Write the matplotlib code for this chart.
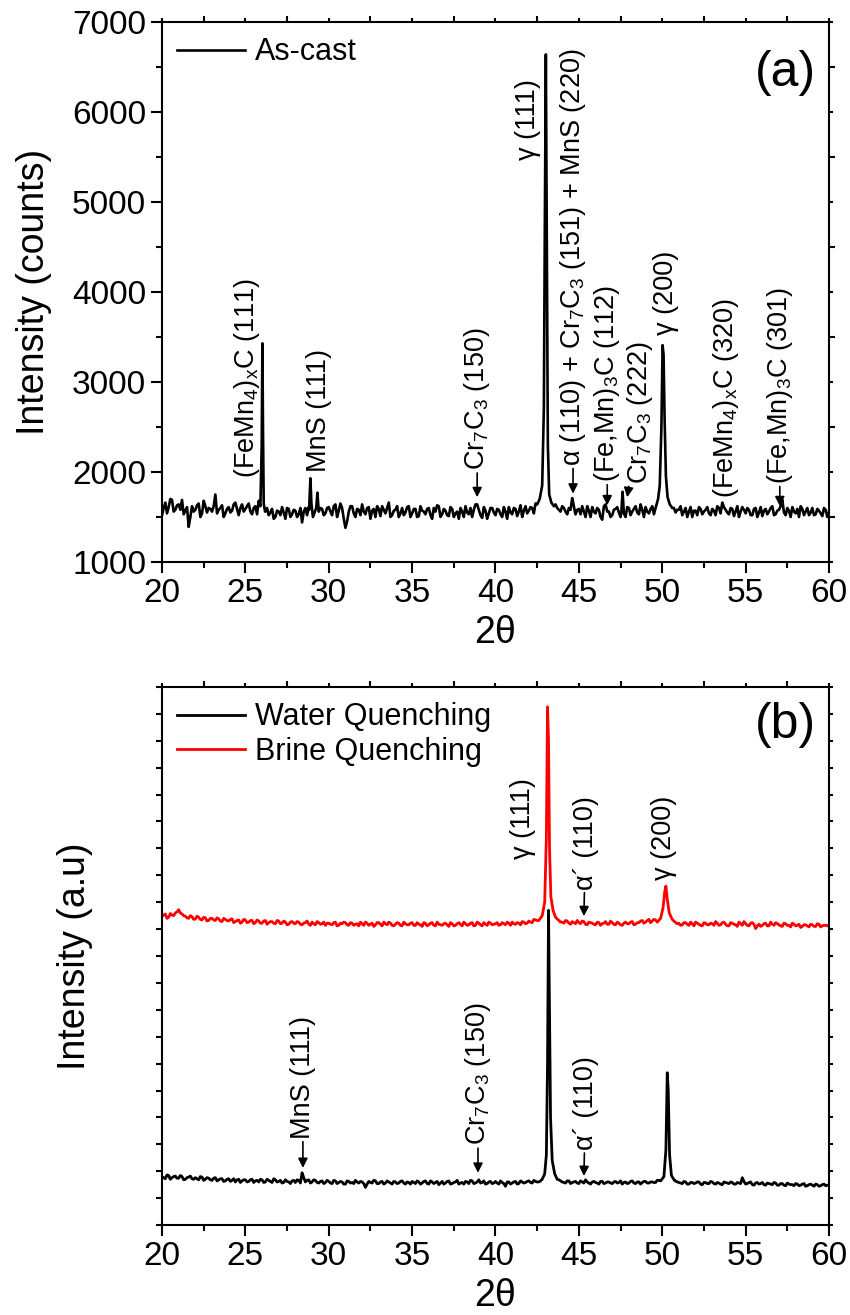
import numpy as np
import matplotlib
matplotlib.use("Agg")
import matplotlib.pyplot as plt
from matplotlib.ticker import MultipleLocator, NullFormatter

plt.rcParams['font.family'] = ['Liberation Sans', 'DejaVu Sans']
plt.rcParams['mathtext.fontset'] = 'custom'
plt.rcParams['mathtext.rm'] = 'Liberation Sans'
plt.rcParams['mathtext.it'] = 'Liberation Sans:italic'

# ---- data ----
# baseline read at every 0.2 deg (20.0 .. 60.0) plus the in-between points (20.1 .. 59.9)
grid_even = np.round(np.arange(20.0, 60.01, 0.2), 1)
grid_odd = np.round(np.arange(20.1, 59.91, 0.2), 1)

# (a) as-cast, counts
ascast_even = [
    1520, 1660, 1610, 1690, 1580,  1640, 1690, 1570, 1390, 1620,
    1580, 1650, 1540, 1620, 1600,  1560, 1750, 1580, 1630, 1540,
    1610, 1570, 1660, 1520, 1640,  1590, 1650, 1530, 1620, 1680,
    1600, 1560, 1520, 1590, 1500,  1560, 1610, 1480, 1590, 1530,
    1570, 1530, 1440, 1600, 1610,  1620, 1560, 1650, 1590, 1540,
    1610, 1520, 1640, 1570, 1600,  1380, 1560, 1620, 1500, 1580,
    1640, 1530, 1610, 1570, 1500,  1590, 1620, 1540, 1660, 1520,
    1580, 1500, 1600, 1550, 1620,  1540, 1590, 1510, 1570, 1530,
    1600, 1480, 1560, 1620, 1530,  1570, 1510, 1590, 1540, 1480,
    1560, 1620, 1530, 1500, 1640,  1580, 1490, 1570, 1540, 1600,
    1520, 1580, 1500, 1560, 1610,  1530, 1590, 1560, 1500, 1620,
    1570, 1600, 1650, 1680, 1760,  1700, 1680, 1660, 1640, 1580,
    1620, 1560, 1600, 1700, 1530,  1590, 1620, 1500, 1570, 1610,
    1540, 1580, 1470, 1640, 1560,  1520, 1590, 1550, 1600, 1500,
    1600, 1560, 1620, 1530, 1580,  1610, 1540, 1620, 1600, 1700,
    1800, 1900, 1700, 1620, 1550,  1580, 1520, 1600, 1560, 1500,
    1570, 1610, 1530, 1580, 1540,  1590, 1520, 1600, 1660, 1580,
    1530, 1590, 1560, 1500, 1610,  1540, 1580, 1520, 1600, 1550,
    1510, 1590, 1560, 1620, 1530,  1580, 1690, 1520, 1570, 1610,
    1540, 1500, 1590, 1560, 1520,  1600, 1530, 1570, 1510, 1580,
    1550]
ascast_odd = [
    1600, 1540, 1700, 1560, 1630,  1580, 1530, 1610, 1500, 1560,
    1630, 1500, 1680, 1550, 1590,  1620, 1540, 1600, 1500, 1590,
    1550, 1640, 1590, 1600, 1560,  1620, 1560, 1600, 1530, 1610,
    1700, 1600, 1550, 1480, 1570,  1520, 1550, 1600, 1500, 1580,
    1500, 1600, 1560, 1520, 1720,  1540, 1700, 1600, 1520, 1600,
    1560, 1620, 1500, 1650, 1480,  1450, 1620, 1540, 1590, 1520,
    1560, 1600, 1480, 1590, 1620,  1510, 1580, 1600, 1500, 1570,
    1620, 1540, 1520, 1610, 1500,  1590, 1500, 1620, 1560, 1590,
    1520, 1600, 1630, 1500, 1590,  1520, 1610, 1500, 1560, 1600,
    1500, 1550, 1600, 1580, 1640,  1520, 1610, 1480, 1600, 1550,
    1590, 1530, 1610, 1480, 1550,  1600, 1510, 1630, 1570, 1540,
    1610, 1540, 1600, 1650, 1700,  2000, 1800, 1650, 1600, 1560,
    1600, 1530, 1620, 1650, 1580,  1530, 1560, 1620, 1500, 1560,
    1600, 1500, 1620, 1560, 1500,  1580, 1610, 1500, 1560, 1610,
    1520, 1590, 1550, 1640, 1500,  1560, 1590, 1530, 1580, 1650,
    3000, 2000, 1700, 1600, 1580,  1620, 1560, 1500, 1610, 1570,
    1520, 1590, 1560, 1610, 1520,  1570, 1620, 1540, 1610, 1550,
    1600, 1510, 1620, 1560, 1580,  1600, 1520, 1590, 1500, 1610,
    1570, 1530, 1600, 1520, 1570,  1620, 1550, 1600, 1500, 1560,
    1590, 1620, 1520, 1600, 1550,  1520, 1590, 1540, 1600, 1500]

ascast_peaks_x = [
    [25.9, 25.98, 26.02, 26.06, 26.1, 26.18],
    [28.82, 28.9, 28.96, 29.05, 29.25, 29.32, 29.4],
    [42.5, 42.65, 42.8, 42.9, 42.96, 43.02, 43.08, 43.14, 43.22, 43.35, 43.5],
    [44.5, 44.6, 44.68, 44.76],
    [47.55, 47.62, 47.7],
    [49.6, 49.75, 49.85, 49.95, 50.02, 50.08, 50.14, 50.22, 50.32, 50.45, 50.6],
]
ascast_peaks_y = [
    [1620, 2300, 3430, 2400, 1650, 1560],
    [1580, 1930, 1650, 1500, 1600, 1770, 1560],
    [1640, 1700, 1850, 2700, 4800, 6640, 4500, 2300, 1750, 1660, 1620],
    [1580, 1710, 1640, 1560],
    [1560, 1780, 1540],
    [1600, 1700, 1850, 2500, 3410, 3300, 2600, 1950, 1720, 1640, 1600],
]

# (b) quenched samples, arbitrary units
water_even = [
    90, 86, 92, 88, 91,  87, 90, 85, 89, 86,  88, 84, 89, 85, 87,  83, 88, 84, 86, 82,
    86, 83, 80, 85, 82,  84, 81, 85, 82, 80,  84, 80, 83, 79, 84,  81, 78, 84, 80, 82,
    79, 83, 97, 80, 84,  80, 83, 78, 82, 79,  81, 77, 82, 79, 80,  76, 81, 79, 83, 78,
    80, 70, 81, 78, 82,  77, 81, 78, 80, 76,  80, 78, 82, 76, 79,  81, 77, 80, 78, 82,
    76, 80, 79, 75, 81,  78, 82, 77, 80, 76,  79, 81, 77, 82, 78,  84, 79, 76, 80, 77,
    81, 76, 79, 72, 80,  78, 81, 77, 80, 79,  82, 78, 81, 80, 83,  100, 300, 120, 90, 84,
    80, 78, 82, 79, 81,  77, 80, 84, 78, 80,  79, 76, 81, 78, 80,  77, 81, 79, 76, 80,
    78, 82, 77, 80, 79,  81, 78, 80, 79, 83,  90, 200, 150, 90, 82,  79, 77, 80, 76, 79,
    78, 80, 75, 79, 77,  80, 76, 78, 75, 79,  77, 79, 76, 78, 88,  76, 79, 75, 78, 76,
    79, 74, 77, 75, 78,  74, 77, 73, 76, 75,  77, 73, 76, 72, 75,  74, 76, 72, 75, 73,
    74]
water_odd = [
    88, 93, 85, 90, 87,  92, 84, 88, 91, 85,  86, 90, 83, 88, 84,  87, 82, 86, 81, 85,
    81, 86, 84, 79, 84,  80, 84, 79, 83, 85,  79, 85, 81, 86, 80,  83, 79, 81, 77, 83,
    84, 78, 88, 83, 78,  84, 79, 81, 77, 83,  78, 83, 77, 81, 76,  82, 78, 77, 80, 81,
    77, 76, 79, 83, 77,  80, 76, 82, 78, 81,  77, 81, 78, 80, 76,  79, 82, 76, 81, 77,
    82, 77, 81, 78, 76,  81, 76, 79, 83, 78,  76, 80, 83, 77, 80,  78, 82, 77, 81, 78,
    78, 82, 77, 80, 76,  80, 76, 82, 78, 81,  79, 83, 80, 82, 81,  400, 300, 110, 88, 82,
    79, 82, 77, 80, 78,  82, 78, 80, 76, 81,  78, 81, 77, 80, 78,  80, 78, 82, 79, 77,
    81, 78, 80, 76, 81,  78, 80, 79, 83, 81,  150, 250, 110, 85, 80,  78, 81, 76, 79, 77,
    80, 76, 79, 77, 81,  77, 79, 76, 80, 78,  80, 76, 79, 77, 81,  77, 80, 74, 79, 77,
    75, 78, 76, 79, 74,  77, 74, 78, 75, 73,  76, 74, 77, 73, 76,  72, 75, 73, 76, 74]
water_peaks_x = [
    [42.8, 42.95, 43.05, 43.12, 43.18, 43.24, 43.3, 43.4, 43.55, 43.7],
    [49.9, 50.1, 50.22, 50.3, 50.36, 50.44, 50.55, 50.75],
]
water_peaks_y = [
    [85, 95, 130, 300, 585, 400, 200, 120, 95, 85],
    [82, 90, 140, 283, 250, 130, 92, 82],
]

brine_even = [
    574, 578, 572, 576, 580,  586, 578, 574, 570, 573,  569, 572, 567, 571, 566,  570, 566, 569, 564, 568,
    565, 569, 564, 567, 563,  567, 563, 566, 562, 565,  561, 566, 562, 564, 560,  565, 561, 563, 559, 564,
    560, 563, 558, 562, 559,  563, 558, 562, 560, 557,  561, 558, 563, 557, 560,  562, 557, 561, 559, 556,
    560, 563, 557, 561, 558,  562, 556, 560, 563, 557,  559, 561, 556, 560, 558,  562, 557, 559, 555, 561,
    558, 562, 556, 559, 557,  561, 555, 560, 557, 562,  556, 560, 558, 562, 557,  561, 556, 559, 563, 558,
    560, 557, 562, 558, 561,  563, 559, 561, 564, 560,  565, 562, 567, 570, 578,  600, 700, 600, 580, 570,
    563, 566, 561, 564, 560,  562, 565, 559, 563, 561,  558, 562, 560, 564, 559,  562, 558, 561, 557, 563,
    560, 564, 559, 562, 566,  563, 568, 565, 567, 575,  590, 620, 590, 570, 565,  561, 558, 562, 557, 560,
    563, 559, 556, 561, 558,  560, 564, 557, 562, 559,  556, 561, 558, 563, 557,  560, 556, 562, 551, 559,
    557, 561, 556, 559, 562,  558, 555, 560, 557, 561,  556, 559, 555, 558, 554,  558, 555, 559, 556, 557,
    558]
brine_odd = [
    576, 570, 579, 575, 582,  580, 575, 571, 575, 568,  574, 568, 572, 565, 570,  567, 571, 565, 570, 566,
    568, 562, 566, 561, 568,  562, 566, 560, 567, 561,  565, 559, 564, 561, 566,  560, 565, 558, 563, 561,
    564, 559, 561, 565, 557,  560, 564, 559, 563, 561,  559, 562, 556, 561, 563,  558, 562, 557, 560, 563,
    557, 561, 559, 555, 562,  559, 563, 558, 561, 556,  562, 557, 563, 558, 561,  557, 562, 558, 562, 556,
    561, 557, 563, 558, 560,  558, 562, 556, 560, 559,  563, 557, 561, 556, 563,  558, 562, 557, 561, 559,
    562, 558, 560, 563, 557,  560, 562, 558, 563, 561,  563, 568, 566, 572, 580,  700, 600, 580, 570, 563,
    561, 565, 559, 562, 566,  560, 564, 558, 562, 559,  563, 557, 561, 559, 565,  559, 563, 558, 561, 560,
    563, 558, 562, 565, 561,  566, 562, 568, 570, 575,  600, 620, 590, 570, 560,  557, 562, 559, 563, 556,
    561, 557, 562, 558, 561,  557, 561, 558, 563, 556,  562, 559, 555, 560, 564,  557, 561, 559, 556, 555,
    560, 556, 563, 557, 560,  556, 561, 557, 554, 559,  557, 553, 558, 556, 559,  555, 560, 554, 557, 556]
brine_peaks_x = [
    [42.6, 42.8, 42.95, 43.05, 43.12, 43.18, 43.24, 43.32, 43.45, 43.6, 43.8],
    [49.7, 49.9, 50.05, 50.15, 50.22, 50.3, 50.42, 50.6, 50.8],
]
brine_peaks_y = [
    [566, 575, 600, 720, 963, 900, 700, 610, 585, 572, 566],
    [563, 570, 590, 620, 630, 605, 580, 568, 562],
]


def build(even, odd, px, py):
    # baseline points on the 0.1 grid, minus those under a peak, plus the peak points
    x = np.concatenate([grid_even, grid_odd])
    y = np.concatenate([np.array(even, float), np.array(odd, float)])
    keep = np.ones(len(x), bool)
    for xs in px:
        keep &= ~((x >= xs[0]) & (x <= xs[-1]))
    x = np.concatenate([x[keep]] + [np.array(v) for v in px])
    y = np.concatenate([y[keep]] + [np.array(v, float) for v in py])
    order = np.argsort(x)
    return x[order], y[order]


xa, ya = build(ascast_even, ascast_odd, ascast_peaks_x, ascast_peaks_y)
xw, yw = build(water_even, water_odd, water_peaks_x, water_peaks_y)
xb, yb = build(brine_even, brine_odd, brine_peaks_x, brine_peaks_y)

fig = plt.figure(figsize=(8.5, 13.15), dpi=100)
ax1 = fig.add_axes([162/850, 1-562/1315, 667/850, 540/1315])
ax2 = fig.add_axes([162/850, 1-1225/1315, 667/850, 538/1315])

ann_fs = 19.5
arrow = dict(arrowstyle='-|>', color='k', lw=1.2, mutation_scale=14, shrinkA=0, shrinkB=0)


def label(ax, text, x, y, tip=None):
    if tip is None:
        ax.text(x, y, text, rotation=90, ha='center', va='bottom', fontsize=ann_fs)
    else:
        ax.annotate(text, xy=tip, xytext=(x, y), rotation=90, ha='center', va='bottom',
                    fontsize=ann_fs, arrowprops=arrow)


# ---- panel (a) ----
ax1.plot(xa, ya, color='k', lw=1.9, label='As-cast')
ax1.set_xlim(20, 60)
ax1.set_ylim(1000, 7000)
ax1.set_ylabel('Intensity (counts)', fontsize=27, labelpad=14)
ax1.set_xlabel('2θ', fontsize=27, labelpad=4)
ax1.yaxis.set_major_locator(MultipleLocator(1000))
ax1.yaxis.set_minor_locator(MultipleLocator(500))
ax1.legend(loc='upper left', frameon=False, fontsize=22, handlelength=2.2,
           handletextpad=0.35, borderaxespad=0.1)
ax1.text(0.935, 0.905, '(a)', transform=ax1.transAxes, fontsize=36, ha='center', va='center')

label(ax1, '(FeMn$_4$)$_\\mathrm{x}$C (111)', 25.1, 1930)
label(ax1, 'MnS (111)', 29.4, 2000)
label(ax1, 'Cr$_7$C$_3$ (150)', 38.9, 2020, tip=(38.9, 1720))
label(ax1, 'γ (111)', 41.95, 5470)
label(ax1, 'α (110) + Cr$_7$C$_3$ (151) + MnS (220)', 44.65, 2070, tip=(44.65, 1760))
label(ax1, '(Fe,Mn)$_3$C (112)', 46.7, 1890, tip=(46.7, 1630))
label(ax1, 'Cr$_7$C$_3$ (222)', 48.65, 1870, tip=(47.9, 1720))
label(ax1, 'γ (200)', 50.25, 3520)
label(ax1, '(FeMn$_4$)$_\\mathrm{x}$C (320)', 53.8, 1710)
label(ax1, '(Fe,Mn)$_3$C (301)', 57.05, 1870, tip=(57.05, 1620))

# ---- panel (b) ----
ax2.plot(xw, yw, color='k', lw=2.0, label='Water Quenching')
ax2.plot(xb, yb, color='#ff0000', lw=2.0, label='Brine Quenching')
ax2.set_xlim(20, 60)
ax2.set_ylim(0, 1000)
ax2.set_ylabel('Intensity (a.u)', fontsize=27, labelpad=42)
ax2.set_xlabel('2θ', fontsize=27, labelpad=4)
ax2.yaxis.set_major_locator(MultipleLocator(50))
ax2.yaxis.set_major_formatter(NullFormatter())
ax2.legend(loc='upper left', frameon=False, fontsize=22, handlelength=2.2,
           handletextpad=0.35, borderaxespad=0.1, labelspacing=0.15)
ax2.text(0.935, 0.93, '(b)', transform=ax2.transAxes, fontsize=36, ha='center', va='center')

label(ax2, 'γ (111)', 41.65, 680)
label(ax2, 'α´ (110)', 45.4, 623, tip=(45.3, 574))
label(ax2, 'γ (200)', 50.1, 641)
label(ax2, 'MnS (111)', 28.45, 160, tip=(28.45, 106))
label(ax2, 'Cr$_7$C$_3$ (150)', 38.95, 148, tip=(38.95, 97))
label(ax2, 'α´ (110)', 45.4, 139, tip=(45.3, 91))

for ax in (ax1, ax2):
    ax.xaxis.set_major_locator(MultipleLocator(5))
    ax.xaxis.set_minor_locator(MultipleLocator(2.5))
    ax.tick_params(which='both', direction='out', width=1.5, top=True, right=True,
                   labeltop=False, labelright=False)
    ax.tick_params(which='major', length=8, labelsize=24)
    ax.tick_params(which='minor', length=4)
    for s in ax.spines.values():
        s.set_linewidth(1.5)

ax2.tick_params(axis='y', which='major', length=4)
# top/right ticks short
for ax in (ax1, ax2):
    for t in ax.xaxis.get_major_ticks() + ax.yaxis.get_major_ticks():
        t.tick2line.set_markersize(3)

fig.savefig('out.png', dpi=100)
